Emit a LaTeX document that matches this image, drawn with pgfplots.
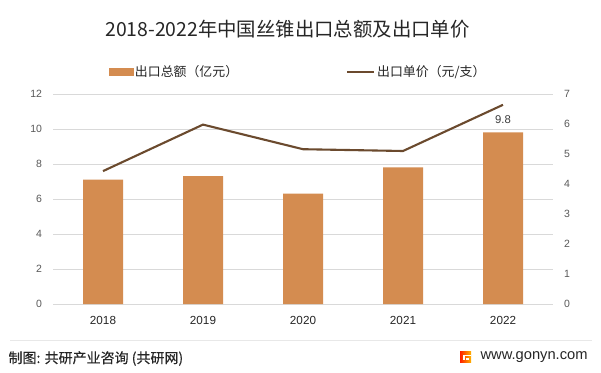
\documentclass[border=0pt]{standalone}
\usepackage{pgfplots}
\pgfplotsset{compat=1.18}
\usepackage{pgfplotstable}
\usepackage{fontspec}
\setmainfont{Liberation Sans}
\newfontfamily\cjk{Noto Sans CJK SC}
\newfontfamily\cjkb[FakeBold=0.4]{Noto Sans CJK SC}
\definecolor{barc}{HTML}{D48C50}
\definecolor{linec}{HTML}{6B4A2E}
\definecolor{gridc}{HTML}{D9D9D9}
\definecolor{tickc}{HTML}{595959}
\definecolor{txtc}{HTML}{262626}
\pgfplotstableread{
x y lab
0 7.1 {}
1 7.3 {}
2 6.3 {}
3 7.8 {}
4 9.8 9.8
}\amount
\pgfplotstableread{
x y
0 4.43
1 5.98
2 5.16
3 5.10
4 6.64
}\price
\begin{document}
\begin{tikzpicture}[x=1pt,y=1pt]
\path[fill=white,use as bounding box] (0,0) rectangle (601,372);
% title
\node[font=\fontsize{19.4}{21}\selectfont\cjk, text=txtc] at (287.5,342.5) {2018-2022年中国丝锥出口总额及出口单价};
% left axis with bars
\begin{axis}[
  at={(53pt,68pt)}, anchor=south west,
  scale only axis, width=500pt, height=210pt,
  xmin=-0.5, xmax=4.5, ymin=0, ymax=12,
  xtick={0,1,2,3,4}, xticklabels={2018,2019,2020,2021,2022},
  ytick={0,2,...,12},
  ymajorgrids, grid style={gridc, line width=0.8pt},
  axis line style={draw=none}, major tick length=0pt,
  /pgf/number format/assume math mode=true,
  yticklabel style={font=\fontsize{10.5}{12}\selectfont, text=tickc, xshift=-7.5pt},
  xticklabel style={font=\fontsize{11.7}{13}\selectfont, text=txtc, yshift=-9pt},
  legend style={at={(0.49,1.105)}, anchor=center, draw=none, fill=none,
    font=\fontsize{12.9}{14}\selectfont\cjk, text=txtc,
    /tikz/every even column/.append style={column sep=106pt},
    inner sep=0pt},
  legend columns=2,
  clip=false,
]
\addlegendimage{legend image code/.code={\fill[barc] (0pt,-3.3pt) rectangle (24pt,3.3pt);}}
\addlegendentry{出口总额（亿元）}
\addlegendimage{legend image code/.code={\draw[linec, line width=2pt] (0pt,0pt) -- (27pt,0pt);}}
\addlegendentry{出口单价（元/支）}
\addplot[ybar, bar width=40pt, fill=barc, draw=none,
  nodes near coords, point meta=explicit symbolic,
  every node near coord/.append style={font=\fontsize{11.3}{13}\selectfont, text=txtc!90, yshift=5.5pt}]
  table[x=x, y=y, meta=lab] {\amount};
\end{axis}
% right axis with line
\begin{axis}[
  at={(53pt,68pt)}, anchor=south west,
  scale only axis, width=500pt, height=210pt,
  xmin=-0.5, xmax=4.5, ymin=0, ymax=7,
  axis y line*=right, axis x line=none,
  ytick={0,1,...,7},
  axis line style={draw=none}, major tick length=0pt,
  /pgf/number format/assume math mode=true,
  yticklabel style={font=\fontsize{10.5}{12}\selectfont, text=tickc, xshift=7.5pt},
]
\addplot[linec, line width=2.1pt, mark=none] table[x=x, y=y] {\price};
\end{axis}
% footer
\draw[gridc!60, line width=0.6pt] (10,31.5) -- (592,31.5);
\node[anchor=west, font=\fontsize{14}{16}\selectfont\cjkb, text=txtc] at (5,13.5) {制图: 共研产业咨询 (共研网)};
\shade[left color=red!75!orange, right color=orange!60!yellow] (460,10) rectangle (471,21);
\fill[white] (462.5,16.3) rectangle (471,17.5);
\fill[white] (462.5,12.5) rectangle (464.5,16.3);
\fill[white] (466,12.5) rectangle (468.5,14.5);
\node[anchor=west, font=\fontsize{14.7}{16}\selectfont, text=txtc] at (477,15) {www.gonyn.com};
\end{tikzpicture}
\end{document}
